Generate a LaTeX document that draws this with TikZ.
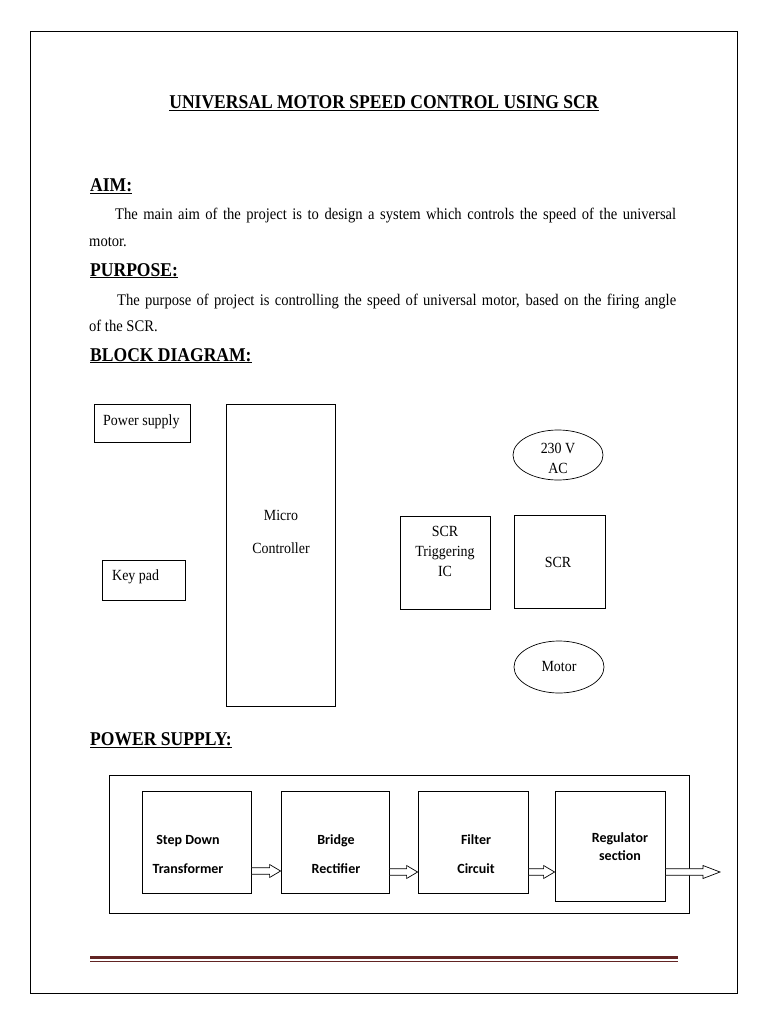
\documentclass[tikz,border=0pt]{standalone}
\usepackage{fontspec}
\setmainfont[FakeStretch=0.9]{Liberation Serif}
\newfontfamily\calib{Carlito}
\usetikzlibrary{calc,shapes.geometric}
\definecolor{rule}{HTML}{622423}
\newcommand\hollowarrow[3]{% from #1 to #2, head length #3
  \draw[line width=0.7pt,fill=white] let \p1=(#1), \p2=(#2) in
    (\x1,\y1+3.3pt) -- (\x2-#3,\y1+3.3pt) -- (\x2-#3,\y1+6.5pt) -- (\x2,\y1)
    -- (\x2-#3,\y1-6.5pt) -- (\x2-#3,\y1-3.3pt) -- (\x1,\y1-3.3pt) -- cycle;}
\begin{document}
\begin{tikzpicture}[x=1pt,y=-1pt,
  box/.style={draw,line width=0.7pt,inner sep=0pt},
  oval/.style={draw,ellipse,line width=0.7pt,inner sep=0pt},
  head/.style={anchor=base west,inner sep=0pt,font=\fontsize{19.5}{22}\selectfont\bfseries},
  body/.style={anchor=base west,inner sep=0pt,font=\fontsize{16.2}{19}\selectfont},
  small/.style={inner sep=0pt,font=\fontsize{15.5}{20}\selectfont,align=center},
  pbox/.style={draw,line width=0.8pt,inner sep=0pt},
  ptext/.style={inner sep=0pt,font=\fontsize{14}{15}\selectfont\calib\bfseries,align=center}]
\useasboundingbox (0,0) rectangle (768,1024);
\fill[white] (0,0) rectangle (768,1024);
\draw[line width=0.8pt] (30,31) rectangle (737,993);

% texts
\node[anchor=base,inner sep=0pt,font=\fontsize{19.5}{22}\selectfont\bfseries] (title) at (384,109) {\underline{UNIVERSAL MOTOR SPEED CONTROL USING SCR}};
\node[head] (aim) at (90,192) {\underline{AIM:}};
\node[body] (aim1) at (115,219) {\makebox[561pt][s]{The main aim of the project is to design a system which controls the speed of the universal}};
\node[body] (aim2) at (89,246) {motor.};
\node[head] (purp) at (90,276) {\underline{PURPOSE:}};
\node[body] (purp1) at (117,305) {\makebox[559pt][s]{The purpose of project is controlling the speed of universal motor, based on the firing angle}};
\node[body] (purp2) at (89,331) {of the SCR.};
\node[head] (bd) at (90,361) {\underline{BLOCK DIAGRAM:}};
\node[head] (ps) at (90,745) {\underline{POWER SUPPLY:}};

% block diagram
\node[box,minimum width=96pt,minimum height=38pt] (psu) at (142,423) {};
\node[small,anchor=base west] (psut) at (103,425) {Power supply};
\node[box,minimum width=109pt,minimum height=302pt] (mc) at (280.5,555) {};
\node[small] (mct1) at (281,515) {Micro};
\node[small] (mct2) at (281,548) {Controller};
\node[box,minimum width=83pt,minimum height=40pt] (kp) at (143.5,580) {};
\node[small,anchor=base west] (kpt) at (112,580) {Key pad};
\node[oval,minimum width=90pt,minimum height=50pt] (ac) at (558,455) {};
\node[small] (act) at (558,458) {230 V\\ AC};
\node[box,minimum width=90pt,minimum height=93pt] (trig) at (445,562.5) {};
\node[small] (trigt) at (445,551) {SCR\\ Triggering\\ IC};
\node[box,minimum width=91pt,minimum height=93pt] (scr) at (559.5,561.5) {};
\node[small] (scrt) at (558,562) {SCR};
\node[oval,minimum width=90pt,minimum height=52pt] (mot) at (559,667) {};
\node[small] (mott) at (559,666) {Motor};

% power supply
\draw[line width=0.8pt] (109,775) rectangle (689,913);
\node[pbox,minimum width=109pt,minimum height=102pt] (sd) at (196.5,842) {};
\node[ptext] (sdt) at (188,854) {Step Down\\[14pt]Transformer};
\node[pbox,minimum width=108pt,minimum height=102pt] (br) at (335,842) {};
\node[ptext] (brt) at (336,854) {Bridge\\[14pt]Rectifier};
\node[pbox,minimum width=110pt,minimum height=102pt] (fi) at (473,842) {};
\node[ptext] (fit) at (476,854) {Filter\\[14pt]Circuit};
\node[pbox,minimum width=110pt,minimum height=110pt] (re) at (610,846) {};
\node[ptext] (ret) at (620,847) {Regulator\\[3pt]section};
\coordinate (out) at (720,872);

\hollowarrow{sd.east |- 0,871}{br.west |- 0,871}{11pt}
\hollowarrow{br.east |- 0,872}{fi.west |- 0,872}{11pt}
\hollowarrow{fi.east |- 0,872}{re.west |- 0,872}{11pt}
\hollowarrow{re.east |- 0,872}{out}{17pt}

% bottom rule
\fill[rule] (90,955.5) rectangle (678,959.3);
\fill[rule] (90,960.8) rectangle (678,961.8);
\end{tikzpicture}
\end{document}
